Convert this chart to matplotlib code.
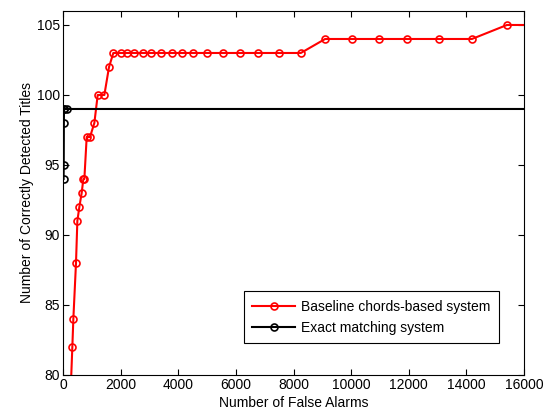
import numpy as np
import matplotlib
matplotlib.use('Agg')
import matplotlib.pyplot as plt

plt.rcParams['font.family'] = ['Liberation Sans', 'DejaVu Sans']

# baseline chords-based system
base_x = [250, 324, 359, 451, 498, 567, 648, 706, 741, 822, 937, 1088, 1204, 1435, 1597,
          1747, 2003, 2211, 2465, 2767, 3045, 3392, 3774, 4121, 4525, 5010, 5566, 6146,
          6781, 7510, 8253, 9097, 10023, 10949, 11933, 13055, 14190, 15405, 16600]
base_y = [78, 82, 84, 88, 91, 92, 93, 94, 94, 97, 97, 98, 100, 100, 102,
          103, 103, 103, 103, 103, 103, 103, 103, 103, 103, 103, 103, 103,
          103, 103, 103, 104, 104, 104, 104, 104, 104, 105, 105]

# exact matching system
exact_x = [20, 25, 30, 35, 40, 130, 17000]
exact_y = [94, 95, 98, 99, 99, 99, 99]

fig = plt.figure(figsize=(5.45, 4.16), dpi=100)
ax = fig.add_axes([0.1156, 0.0986, 0.846, 0.875])

ax.plot(base_x, base_y, '-o', color='red', lw=1.5, ms=5, mfc='none', mew=1.2,
        label='Baseline chords-based system')
ax.plot(exact_x, exact_y, '-o', color='black', lw=1.5, ms=5, mfc='none', mew=1.2,
        label='Exact matching system', markevery=[0, 1, 2, 3, 4, 5])

ax.set_xlim(0, 16000)
ax.set_ylim(80, 106)
ax.set_xticks(np.arange(0, 16001, 2000))
ax.set_yticks(np.arange(80, 106, 5))
ax.tick_params(direction='in', top=True, right=True, labelsize=10, length=4, pad=2)
ax.set_xlabel('Number of False Alarms', fontsize=10, labelpad=3)
ax.set_ylabel('Number of Correctly Detected Titles', fontsize=10, labelpad=2)

leg = ax.legend(loc='lower right', bbox_to_anchor=(0.945, 0.088), fontsize=10,
                fancybox=False, edgecolor='black', framealpha=1, handlelength=3.1,
                handletextpad=0.4, borderpad=0.6, labelspacing=0.5, borderaxespad=0)
leg.get_frame().set_linewidth(0.8)

plt.savefig('out.png', dpi=100)
